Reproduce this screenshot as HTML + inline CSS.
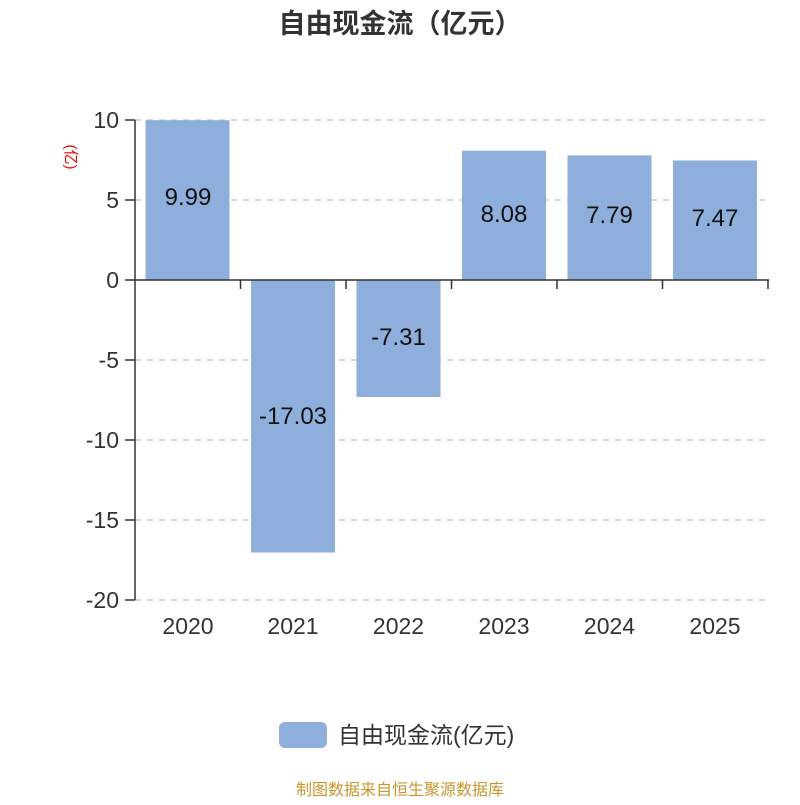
<!DOCTYPE html>
<html><head><meta charset="utf-8"><style>body{margin:0;background:#fff}</style></head>
<body>
<svg width="800" height="800" xmlns="http://www.w3.org/2000/svg" font-family="'Liberation Sans','Noto Sans CJK SC',sans-serif">
<rect width="800" height="800" fill="#fff"/>
<text x="400" y="33" text-anchor="middle" font-size="27" font-weight="bold" fill="#333">自由现金流（亿元）</text>
<g stroke="#ccc" stroke-width="1.5" stroke-dasharray="6,6">
<line x1="135" y1="120" x2="768" y2="120"/><line x1="135" y1="200" x2="768" y2="200"/>
<line x1="135" y1="360" x2="768" y2="360"/><line x1="135" y1="440" x2="768" y2="440"/>
<line x1="135" y1="520" x2="768" y2="520"/><line x1="135" y1="600" x2="768" y2="600"/>
</g>
<g fill="#8eaedb">
<rect x="145.5" y="120.2" width="84" height="159.8"/>
<rect x="251" y="280" width="84" height="272.5"/>
<rect x="356.5" y="280" width="84" height="117"/>
<rect x="462" y="150.7" width="84" height="129.3"/>
<rect x="567.5" y="155.4" width="84" height="124.6"/>
<rect x="673" y="160.5" width="84" height="119.5"/>
</g>
<g stroke="#333" stroke-width="1.5">
<line x1="135" y1="120" x2="135" y2="600"/>
<line x1="135" y1="280" x2="769" y2="280"/>
<line x1="125" y1="120" x2="135" y2="120"/><line x1="125" y1="200" x2="135" y2="200"/>
<line x1="125" y1="280" x2="135" y2="280"/><line x1="125" y1="360" x2="135" y2="360"/>
<line x1="125" y1="440" x2="135" y2="440"/><line x1="125" y1="520" x2="135" y2="520"/>
<line x1="125" y1="600" x2="135" y2="600"/>
<line x1="240.5" y1="280" x2="240.5" y2="289"/><line x1="346" y1="280" x2="346" y2="289"/>
<line x1="451.5" y1="280" x2="451.5" y2="289"/><line x1="557" y1="280" x2="557" y2="289"/>
<line x1="662.5" y1="280" x2="662.5" y2="289"/><line x1="768" y1="280" x2="768" y2="289"/>
</g>
<g font-size="23" fill="#333" text-anchor="end">
<text x="119" y="128">10</text><text x="119" y="208">5</text><text x="119" y="288">0</text>
<text x="119" y="368">-5</text><text x="119" y="448">-10</text><text x="119" y="528">-15</text><text x="119" y="608">-20</text>
</g>
<text transform="translate(66,157) rotate(90)" text-anchor="middle" font-size="15" fill="#e00">(亿)</text>
<g font-size="23" fill="#333" text-anchor="middle">
<text x="188" y="634">2020</text><text x="293" y="634">2021</text><text x="398.5" y="634">2022</text>
<text x="504" y="634">2023</text><text x="609.5" y="634">2024</text><text x="715" y="634">2025</text>
</g>
<g font-size="24" fill="#111" text-anchor="middle">
<text x="188" y="205">9.99</text><text x="293" y="424">-17.03</text><text x="398.5" y="345">-7.31</text>
<text x="504" y="222">8.08</text><text x="609.5" y="223">7.79</text><text x="715" y="226">7.47</text>
</g>
<rect x="279" y="722" width="48" height="26" rx="6" fill="#8eaedb"/>
<text x="338" y="743" font-size="23" fill="#333">自由现金流(亿元)</text>
<text x="400" y="795" text-anchor="middle" font-size="16" fill="#c9962e">制图数据来自恒生聚源数据库</text>
</svg>
</body></html>
